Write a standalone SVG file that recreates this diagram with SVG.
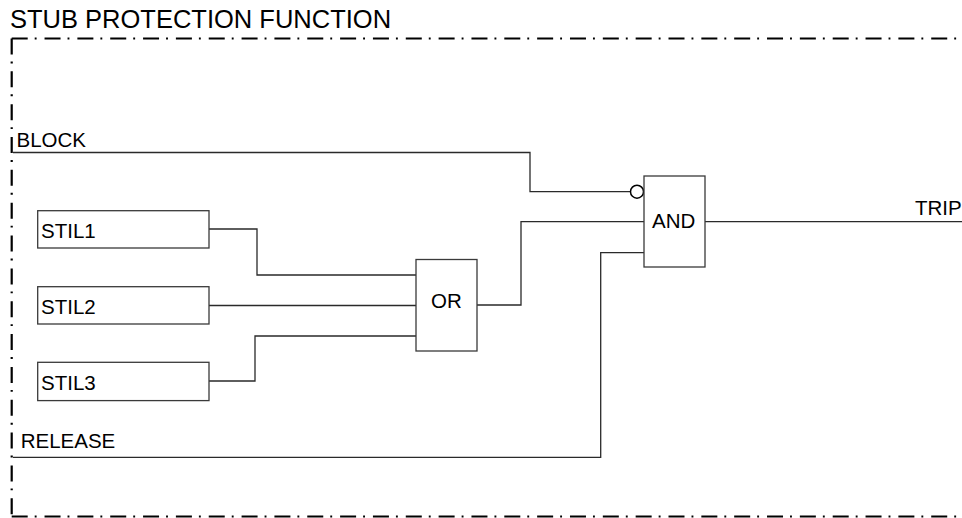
<svg xmlns="http://www.w3.org/2000/svg" width="962" height="518" viewBox="0 0 962 518">
<style>
text{font-family:"Liberation Sans",Arial,sans-serif;fill:#000}
.lbl{font-size:20.5px}
.title{font-size:25.5px}
.border{stroke:#000;stroke-width:2.2;fill:none;stroke-dasharray:16 7 1.9 7.94}
.box{fill:#fff;stroke:#3a3a3a;stroke-width:1.3}
.wire{fill:none;stroke:#2a2a2a;stroke-width:1.3}
</style>
<rect width="962" height="518" fill="#fff"/>
<text class="title" x="10" y="28">STUB PROTECTION FUNCTION</text>
<g id="frame">
<line class="border" x1="11.7" y1="38.5" x2="962" y2="38.5"/>
<line class="border" x1="11.7" y1="38.5" x2="11.7" y2="516.5"/>
<line class="border" x1="11.7" y1="516.5" x2="962" y2="516.5"/>
</g>
<g id="connectors">
<polyline class="wire" points="13,152.5 530,152.5 530,191.7 630.5,191.7"/>
<polyline class="wire" points="209,229 257,229 257,275 416,275"/>
<polyline class="wire" points="209,305.5 416,305.5"/>
<polyline class="wire" points="209,381 255,381 255,336 416,336"/>
<polyline class="wire" points="477,305 521,305 521,221.7 644,221.7"/>
<polyline class="wire" points="13,457.3 600.7,457.3 600.7,252.7 644,252.7"/>
<line class="wire" x1="705" y1="221.7" x2="962" y2="221.7"/>
<circle cx="637" cy="191.7" r="6.5" fill="#fff" stroke="#000" stroke-width="1.5"/>
</g>
<g id="block"><text class="lbl" x="16.5" y="146.5">BLOCK</text></g>
<g id="release"><text class="lbl" x="20.7" y="448.3">RELEASE</text></g>
<g id="stil1"><rect class="box" x="37.7" y="210.7" width="171.3" height="37.3"/><text class="lbl" x="41" y="237.7">STIL1</text></g>
<g id="stil2"><rect class="box" x="37.7" y="286.7" width="171.3" height="37.3"/><text class="lbl" x="41" y="314">STIL2</text></g>
<g id="stil3"><rect class="box" x="37.7" y="362.3" width="171.3" height="38.3"/><text class="lbl" x="41" y="390">STIL3</text></g>
<g id="or"><rect class="box" x="416" y="259.5" width="61" height="91.5"/><text class="lbl" x="431" y="308.3">OR</text></g>
<g id="and"><rect class="box" x="644" y="176" width="61" height="91"/><text class="lbl" x="652" y="228.3">AND</text></g>
<g id="trip"><text class="lbl" x="915" y="215">TRIP</text></g>
</svg>
